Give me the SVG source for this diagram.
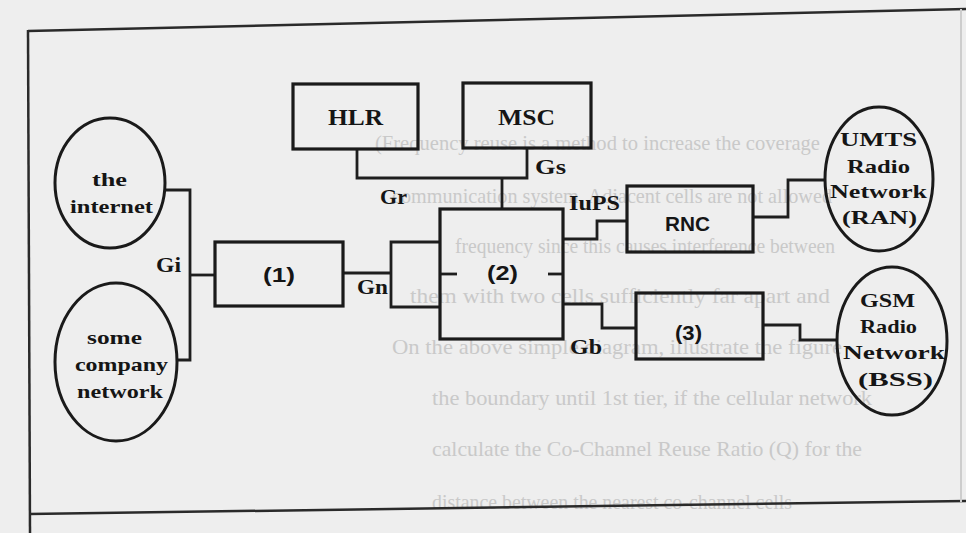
<svg xmlns="http://www.w3.org/2000/svg" width="966" height="533" viewBox="0 0 966 533">
<defs>
<style>
.bg{fill:#eeeeee}
.frame{fill:none;stroke:#2a2a2a;stroke-width:2.5}
.box{fill:none;stroke:#1a1a1a;stroke-width:3.2}
.ell{fill:none;stroke:#1a1a1a;stroke-width:3}
.con{fill:none;stroke:#1e1e1e;stroke-width:2.8;stroke-linejoin:miter}
.ghost{font-family:"Liberation Serif",serif;font-size:22px;fill:#c9c9c9}
.lbl{font-family:"Liberation Serif",serif;font-size:20px;font-weight:bold;fill:#151515}
.big{font-family:"Liberation Serif",serif;font-size:24px;font-weight:bold;fill:#151515}
.sans{font-family:"Liberation Sans",sans-serif;font-size:20px;font-weight:bold;fill:#151515}
.et{font-family:"Liberation Serif",serif;font-size:19px;font-weight:bold;fill:#151515}
</style>
</defs>
<rect class="bg" x="0" y="0" width="966" height="533"/>
<g id="ghost-text">
<text class="ghost" x="375" y="150" textLength="445" lengthAdjust="spacingAndGlyphs">(Frequency reuse is a method to increase the coverage</text>
<text class="ghost" x="392" y="203" textLength="440" lengthAdjust="spacingAndGlyphs">communication system. Adjacent cells are not allowed</text>
<text class="ghost" x="455" y="253" textLength="380" lengthAdjust="spacingAndGlyphs">frequency since this causes interference between</text>
<text class="ghost" x="410" y="303" textLength="420" lengthAdjust="spacingAndGlyphs">them with two cells sufficiently far apart and</text>
<text class="ghost" x="392" y="354" textLength="450" lengthAdjust="spacingAndGlyphs">On the above simple diagram, illustrate the figure</text>
<text class="ghost" x="432" y="405" textLength="440" lengthAdjust="spacingAndGlyphs">the boundary until 1st tier, if the cellular network</text>
<text class="ghost" x="432" y="456" textLength="430" lengthAdjust="spacingAndGlyphs">calculate the Co-Channel Reuse Ratio (Q) for the</text>
<text class="ghost" x="432" y="509" textLength="360" lengthAdjust="spacingAndGlyphs">distance between the nearest co-channel cells</text>
</g>
<g id="frame">
<path class="frame" d="M28,31 L966,9"/>
<path class="frame" d="M28,30 L30,533"/>
<path class="frame" d="M29,514 L966,501"/>
<path d="M961,9 L961,502" fill="none" stroke="#cdcdcd" stroke-width="2"/>
</g>
<g id="connectors">
<path class="con" d="M165,190 H190 V360 H177"/>
<path class="con" d="M190,275 H215"/>
<path class="con" d="M343,273 H391"/>
<path class="con" d="M440,242 H391 V307 H440"/>
<path class="con" d="M357,149 V178 H527 V147"/>
<path class="con" d="M502,178 V209"/>
<path class="con" d="M563,239 H597 V221 H627"/>
<path class="con" d="M563,304 H602 V328 H636"/>
<path class="con" d="M753,217 H788 V180 H826"/>
<path class="con" d="M763,325 H800 V340 H838"/>
<path class="con" d="M440,274 H457"/>
<path class="con" d="M548,274 H563"/>
<text class="lbl" x="156" y="272" textLength="25" lengthAdjust="spacingAndGlyphs">Gi</text>
<text class="lbl" x="357" y="294" textLength="31" lengthAdjust="spacingAndGlyphs">Gn</text>
<text class="lbl" x="380" y="204" textLength="27" lengthAdjust="spacingAndGlyphs">Gr</text>
<text class="lbl" x="535" y="174" textLength="31" lengthAdjust="spacingAndGlyphs">Gs</text>
<text class="lbl" x="569" y="210" textLength="51" lengthAdjust="spacingAndGlyphs">IuPS</text>
<text class="lbl" x="570" y="354" textLength="32" lengthAdjust="spacingAndGlyphs">Gb</text>
</g>
<g id="internet">
<ellipse class="ell" cx="110" cy="183" rx="55" ry="65"/>
<text class="et" x="92" y="186" textLength="35" lengthAdjust="spacingAndGlyphs">the</text>
<text class="et" x="70" y="213" textLength="83" lengthAdjust="spacingAndGlyphs">internet</text>
</g>
<g id="company">
<ellipse class="ell" cx="116" cy="362" rx="61" ry="79"/>
<text class="et" x="87" y="344" textLength="55" lengthAdjust="spacingAndGlyphs">some</text>
<text class="et" x="75" y="371" textLength="93" lengthAdjust="spacingAndGlyphs">company</text>
<text class="et" x="77" y="398" textLength="86" lengthAdjust="spacingAndGlyphs">network</text>
</g>
<g id="hlr">
<rect class="box" x="293" y="84" width="125" height="65"/>
<text class="big" x="328" y="125" textLength="55" lengthAdjust="spacingAndGlyphs">HLR</text>
</g>
<g id="msc">
<rect class="box" x="463" y="83" width="128" height="65"/>
<text class="big" x="498" y="125" textLength="57" lengthAdjust="spacingAndGlyphs">MSC</text>
</g>
<g id="node1">
<rect class="box" x="215" y="242" width="128" height="64"/>
<text class="sans" x="263" y="282" textLength="32" lengthAdjust="spacingAndGlyphs">(1)</text>
</g>
<g id="node2">
<rect class="box" x="440" y="209" width="123" height="130"/>
<text class="sans" x="487" y="280" textLength="31" lengthAdjust="spacingAndGlyphs">(2)</text>
</g>
<g id="rnc">
<rect class="box" x="627" y="186" width="126" height="66"/>
<text class="sans" x="665" y="231" textLength="45" lengthAdjust="spacingAndGlyphs">RNC</text>
</g>
<g id="node3">
<rect class="box" x="636" y="293" width="127" height="66"/>
<text class="sans" x="675" y="340" textLength="27" lengthAdjust="spacingAndGlyphs">(3)</text>
</g>
<g id="umts">
<ellipse class="ell" cx="879" cy="179" rx="54" ry="72"/>
<text class="et" x="840" y="146" textLength="77" lengthAdjust="spacingAndGlyphs">UMTS</text>
<text class="et" x="847" y="173" textLength="63" lengthAdjust="spacingAndGlyphs">Radio</text>
<text class="et" x="830" y="198" textLength="97" lengthAdjust="spacingAndGlyphs">Network</text>
<text class="et" x="842" y="224" textLength="75" lengthAdjust="spacingAndGlyphs">(RAN)</text>
</g>
<g id="gsm">
<ellipse class="ell" cx="892" cy="341" rx="55" ry="74"/>
<text class="et" x="860" y="307" textLength="55" lengthAdjust="spacingAndGlyphs">GSM</text>
<text class="et" x="860" y="333" textLength="57" lengthAdjust="spacingAndGlyphs">Radio</text>
<text class="et" x="843" y="359" textLength="102" lengthAdjust="spacingAndGlyphs">Network</text>
<text class="et" x="858" y="386" textLength="75" lengthAdjust="spacingAndGlyphs">(BSS)</text>
</g>
</svg>
